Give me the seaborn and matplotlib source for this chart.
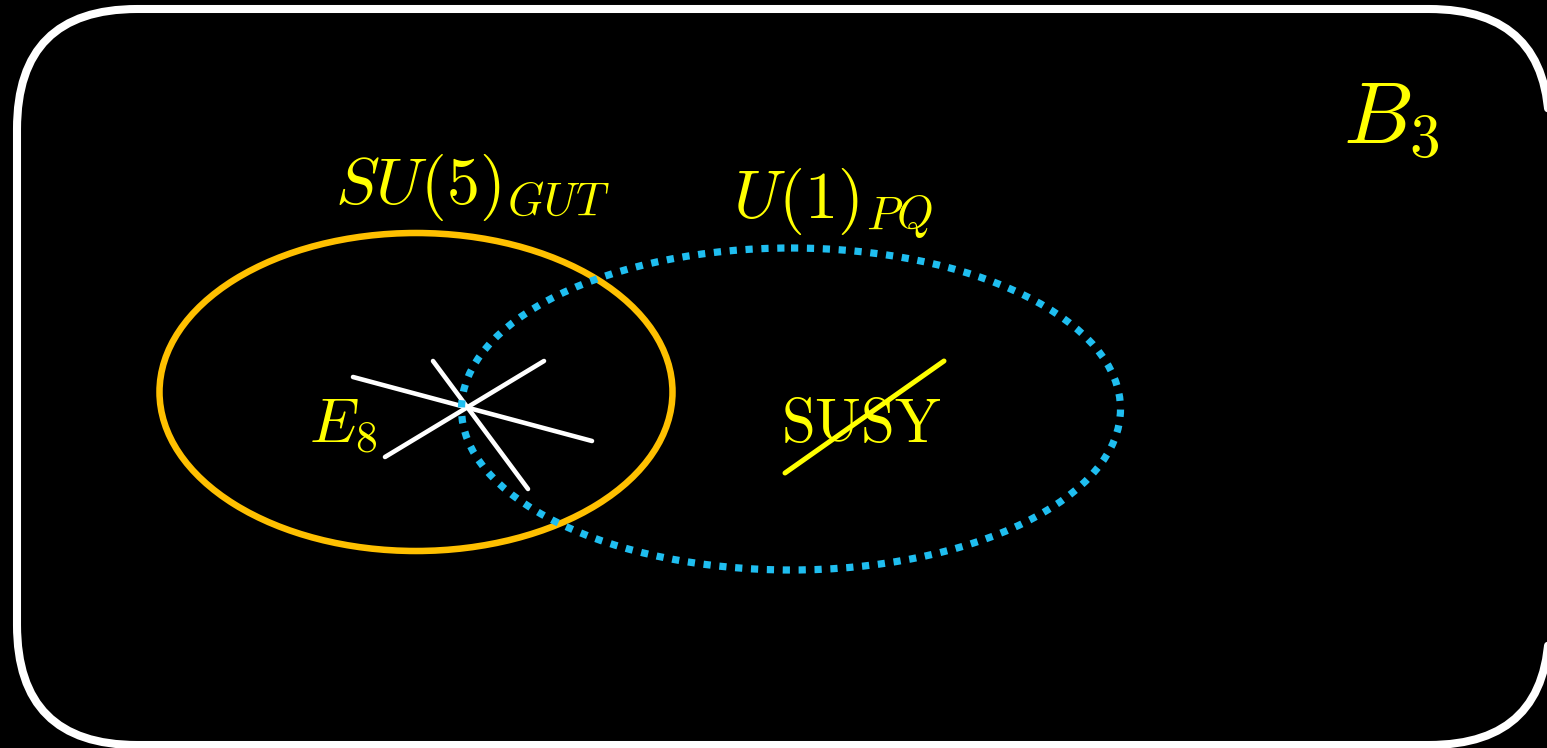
import matplotlib
matplotlib.use("Agg")
import matplotlib.pyplot as plt
from matplotlib.patches import Ellipse, FancyBboxPatch
import seaborn as sns
import pandas as pd

# diagram geometry, in pixel units of the 1547x748 picture (y grows downward)
W, H = 1547, 748

box_xy = [17, 9]            # top-left corner of the rounded frame
box_wh = [1532, 736]        # width, height
box_round = 120

su5_center = [416, 392]
su5_size = [513, 318]
pq_center = [791, 409]
pq_size = [659, 322]

# white "star" strokes through the E8 point
star_x0 = [353, 433, 385]
star_y0 = [377, 361, 457]
star_x1 = [592, 528, 544]
star_y1 = [441, 489, 361]

# yellow strike through SUSY
strike_x = [785, 944]
strike_y = [473, 361]

labels = [r"$SU(5)_{GUT}$", r"$U(1)_{PQ}$", r"$E_8$", r"$\mathrm{SUSY}$", r"$B_3$"]
label_x = [335, 733, 309, 781, 1343]
label_y = [204, 219, 442, 442, 143]
label_size = [47.5, 48, 45, 44, 63]

sns.set_theme(style="white")
plt.rcParams["mathtext.fontset"] = "cm"

fig = plt.figure(figsize=(W / 100, H / 100), dpi=100, facecolor="black")
ax = fig.add_axes([0, 0, 1, 1])
ax.set_facecolor("black")
ax.set_xlim(0, W)
ax.set_ylim(H, 0)
ax.set_axis_off()

# rounded frame: flatten the curved outline to a polyline so the part that
# runs off the right edge gets clipped cleanly
frame = FancyBboxPatch((box_xy[0], box_xy[1]), box_wh[0], box_wh[1],
                       boxstyle=f"round,pad=0,rounding_size={box_round}")
outline = frame.get_path().to_polygons(closed_only=False)[0]
ax.plot(outline[:, 0], outline[:, 1], color="white", linewidth=5.8,
        solid_joinstyle="round", zorder=1)

ax.add_patch(Ellipse(su5_center, su5_size[0], su5_size[1], facecolor="none",
                     edgecolor="#ffc000", linewidth=4.7, zorder=2))

# star strokes, one unit per segment
seg = pd.DataFrame({
    "x": star_x0 + star_x1,
    "y": star_y0 + star_y1,
    "seg": list(range(3)) + list(range(3)),
})
sns.lineplot(data=seg, x="x", y="y", units="seg", estimator=None, sort=False,
             color="white", linewidth=3.3, ax=ax, zorder=3)

strike = pd.DataFrame({"x": strike_x, "y": strike_y})
sns.lineplot(data=strike, x="x", y="y", estimator=None, sort=False,
             color="#ffff00", linewidth=3.6, ax=ax, zorder=5)

pq = Ellipse(pq_center, pq_size[0], pq_size[1], facecolor="none",
             edgecolor="#1fbef0", linewidth=5.2, linestyle=(0, (1, 1.2)), zorder=6)
pq.set_capstyle("butt")
ax.add_patch(pq)

for txt, x, y, s in zip(labels, label_x, label_y, label_size):
    ax.text(x, y, txt, color="#ffff00", fontsize=s, ha="left", va="baseline", zorder=4)

ax.set_xlim(0, W)
ax.set_ylim(H, 0)
ax.set_xlabel("")
ax.set_ylabel("")
fig.savefig("out.png", dpi=100, facecolor="black")
